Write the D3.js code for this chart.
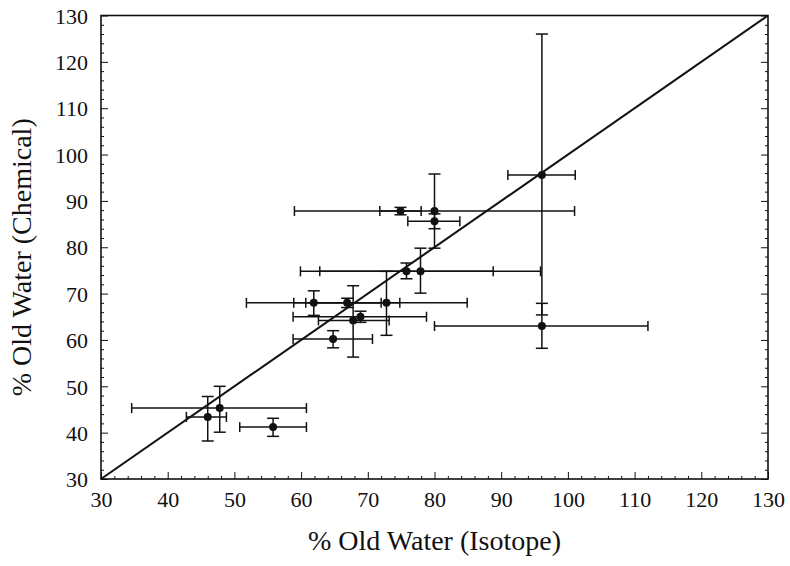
<!DOCTYPE html>
<html>
<head>
<meta charset="utf-8">
<script src="https://cdn.jsdelivr.net/npm/d3@7"></script>
<style>
  body { margin: 0; background: #fff; }
  svg { display: block; }
  text { font-family: "Liberation Serif", "Times New Roman", serif; fill: #111; }
</style>
</head>
<body>
<svg id="chart" width="790" height="566"></svg>
<script>
// ---- data ----
const isotope   = [46.0, 47.8, 55.8, 64.8, 61.9, 66.9, 72.8, 67.8, 68.9, 75.8, 77.9, 74.9, 80.0, 80.0, 96.1, 96.1];
const chemical  = [43.4, 45.3, 41.2, 60.2, 68.0, 68.0, 68.0, 64.2, 65.0, 74.8, 74.8, 87.8, 87.8, 85.6, 95.6, 63.0];
const isoLow    = [42.8, 34.6, 50.8, 58.8, 51.8, 58.9, 60.7, 62.6, 58.8, 62.8, 59.9, 71.8, 59.0, 76.0, 91.0, 80.0];
const isoHigh   = [48.8, 60.8, 60.8, 70.7, 72.0, 74.8, 84.9, 73.2, 78.8, 88.8, 95.9, 78.0, 101.0, 83.8, 101.1, 112.0];
const chemLow   = [38.2, 40.1, 39.2, 58.3, 65.3, 67.0, 61.0, 56.3, 63.8, 73.2, 70.1, 87.0, 79.8, 84.0, 65.4, 58.2];
const chemHigh  = [47.8, 50.0, 43.1, 62.0, 70.6, 69.0, 74.8, 71.7, 66.2, 76.6, 79.8, 88.6, 95.8, 87.2, 126.0, 67.9];
const domain    = [30, 130];
const tickLabels = [30, 40, 50, 60, 70, 80, 90, 100, 110, 120, 130];
const xTitle = "% Old Water (Isotope)";
const yTitle = "% Old Water (Chemical)";

// ---- layout ----
const svg = d3.select("#chart");
const L = 101, R = 768, T = 15.5, B = 479;
const x = d3.scaleLinear().domain(domain).range([L, R]);
const y = d3.scaleLinear().domain(domain).range([B, T]);
const minorTicks = d3.range(domain[0], domain[1] + 0.1, 2);
const isMajor = d => tickLabels.includes(d);

// bottom axis
const gx = svg.append("g").attr("transform", `translate(0,${B})`)
  .call(d3.axisBottom(x).tickValues(minorTicks).tickSizeInner(-3).tickSizeOuter(0).tickPadding(12)
    .tickFormat(d => isMajor(d) ? d : ""));
// left axis
const gy = svg.append("g").attr("transform", `translate(${L},0)`)
  .call(d3.axisLeft(y).tickValues(minorTicks).tickSizeInner(-3).tickSizeOuter(0).tickPadding(13)
    .tickFormat(d => isMajor(d) ? d : ""));
// right axis (ticks only)
const gr = svg.append("g").attr("transform", `translate(${R},0)`)
  .call(d3.axisRight(y).tickValues(minorTicks).tickSizeInner(-3).tickSizeOuter(0).tickFormat(""));

[gx, gy, gr].forEach(g => {
  g.select(".domain").remove();
  g.selectAll(".tick line").attr("stroke", "#111").attr("stroke-width", 1);
  g.selectAll(".tick text").style("font-size", "22px").attr("fill", "#111");
});
gx.selectAll(".tick").filter(isMajor).select("line").attr("y2", -7);
gy.selectAll(".tick").filter(isMajor).select("line").attr("x2", 7);
gr.selectAll(".tick").filter(isMajor).select("line").attr("x2", -7);
gy.selectAll(".tick text").attr("dy", "0.35em");

// frame
svg.append("rect").attr("x", L).attr("y", T).attr("width", R - L).attr("height", B - T)
  .attr("fill", "none").attr("stroke", "#111").attr("stroke-width", 1.6);

// 1:1 line
svg.append("line")
  .attr("x1", x(domain[0])).attr("y1", y(domain[0]))
  .attr("x2", x(domain[1])).attr("y2", y(domain[1]))
  .attr("stroke", "#111").attr("stroke-width", 2);

// error bars
const cap = 5;
const idx = d3.range(isotope.length);
const eb = svg.append("g").attr("stroke", "#111").attr("stroke-width", 1.5).attr("fill", "none");
idx.forEach(i => {
  const cx = x(isotope[i]), cy = y(chemical[i]);
  // horizontal
  eb.append("line").attr("x1", x(isoLow[i])).attr("x2", x(isoHigh[i])).attr("y1", cy).attr("y2", cy);
  eb.append("line").attr("x1", x(isoLow[i])).attr("x2", x(isoLow[i])).attr("y1", cy - cap).attr("y2", cy + cap);
  eb.append("line").attr("x1", x(isoHigh[i])).attr("x2", x(isoHigh[i])).attr("y1", cy - cap).attr("y2", cy + cap);
  // vertical
  eb.append("line").attr("x1", cx).attr("x2", cx).attr("y1", y(chemLow[i])).attr("y2", y(chemHigh[i]));
  eb.append("line").attr("x1", cx - cap - 1).attr("x2", cx + cap + 1).attr("y1", y(chemLow[i])).attr("y2", y(chemLow[i]));
  eb.append("line").attr("x1", cx - cap - 1).attr("x2", cx + cap + 1).attr("y1", y(chemHigh[i])).attr("y2", y(chemHigh[i]));
});

// points
svg.append("g").selectAll("circle").data(idx).join("circle")
  .attr("cx", i => x(isotope[i])).attr("cy", i => y(chemical[i]))
  .attr("r", 4).attr("fill", "#111");

// titles
svg.append("text").attr("x", (L + R) / 2).attr("y", 550).attr("text-anchor", "middle")
  .style("font-size", "28px").text(xTitle);
svg.append("text").attr("transform", `translate(31,${(T + B) / 2 + 10}) rotate(-90)`)
  .attr("text-anchor", "middle").style("font-size", "28px").text(yTitle);
</script>
</body>
</html>
